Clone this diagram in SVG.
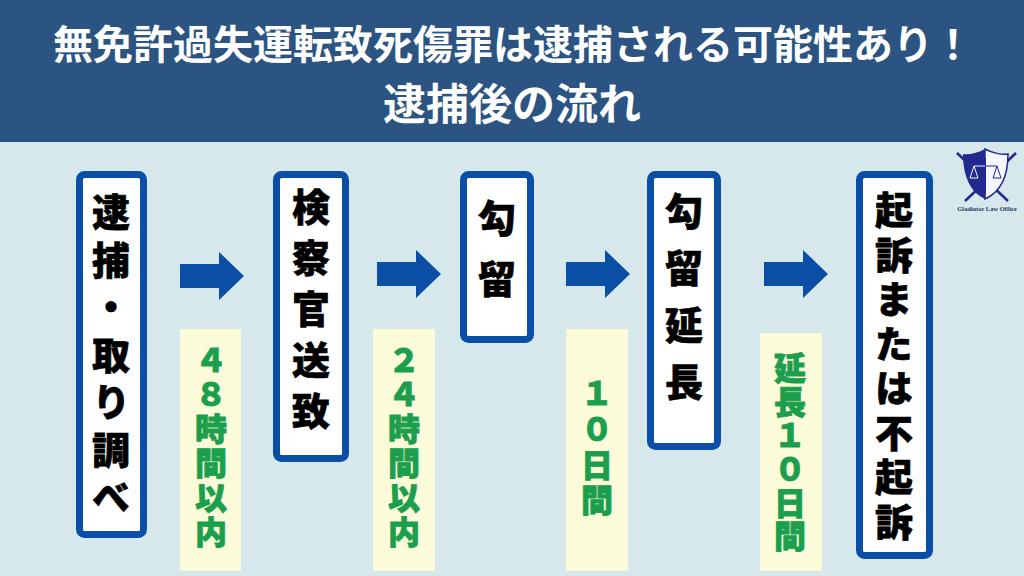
<svg xmlns="http://www.w3.org/2000/svg" width="1024" height="576" viewBox="0 0 1024 576">
<style>
text{font-family:"Noto Sans CJK JP","Noto Sans",sans-serif;text-anchor:middle}
.box{fill:#fff;stroke:#0a4ea6;stroke-width:7}
.t,.g{writing-mode:vertical-rl;text-orientation:upright;text-anchor:start;font-weight:900}
.t{font-size:38px;fill:#000;stroke:#000;stroke-width:.6}
.lb{fill:#fbfbd9}
.g{font-size:32px;fill:#1b9f4c;stroke:#1b9f4c;stroke-width:.8}
.ar{fill:#0a4ea6}
.title{font-weight:700;fill:#fff}
</style>
<rect width="1024" height="576" fill="#d6e8ec"/>
<g id="header"><rect width="1024" height="142" fill="#2b5482"/>
<text class="title" x="513" y="59" font-size="40">無免許過失運転致死傷罪は逮捕される可能性あり！</text>
<text class="title" x="512" y="120" font-size="43">逮捕後の流れ</text></g>
<g id="node1"><rect class="box" x="79.500" y="174.500" width="64" height="360" rx="5"/>
<text class="t" x="111" y="193" letter-spacing="9.500">逮捕・取り調べ</text></g>
<g id="node2"><rect class="box" x="276.500" y="174.500" width="69" height="284" rx="5"/>
<text class="t" x="311" y="188" letter-spacing="13">検察官送致</text></g>
<g id="node3"><rect class="box" x="463.500" y="174.500" width="67" height="165" rx="5"/>
<text class="t" x="497" y="199" letter-spacing="23">勾留</text></g>
<g id="node4"><rect class="box" x="650.500" y="174.500" width="67" height="272" rx="5"/>
<text class="t" x="684" y="192" letter-spacing="19">勾留延長</text></g>
<g id="node5"><rect class="box" x="859.500" y="174.500" width="70" height="381" rx="5"/>
<text class="t" x="894" y="191" letter-spacing="6.500">起訴または不起訴</text></g>
<g id="connectors">
<path class="ar" d="M180 264H219V252L244 276L219 300V288H180Z"/>
<path class="ar" d="M377 262H416V250L441 274L416 298V286H377Z"/>
<path class="ar" d="M566 262H605V250L630 274L605 298V286H566Z"/>
<path class="ar" d="M764 262H803V250L828 274L803 298V286H764Z"/>
</g>
<g id="label1"><rect class="lb" x="180" y="329" width="61" height="242"/>
<text class="g" x="211" y="344" letter-spacing="2.400">４８時間以内</text></g>
<g id="label2"><rect class="lb" x="373" y="329" width="62" height="242"/>
<text class="g" x="404" y="344" letter-spacing="2.400">２４時間以内</text></g>
<g id="label3"><rect class="lb" x="566" y="329" width="62" height="242"/>
<text class="g" x="597" y="377" letter-spacing="3.700">１０日間</text></g>
<g id="label4"><rect class="lb" x="760" y="333" width="62" height="238"/>
<text class="g" x="790" y="352" letter-spacing="1.600">延長１０日間</text></g>
<g id="logo">
<path d="M957 153L1008 201M1016 153L965 201" stroke="#1f2a8c" stroke-width="2.500"/>
<path d="M985 149C978 153 969 155 963 154C963 172 968 191 985 199Z" fill="#1f2a8c"/>
<path d="M985 149C992 153 1002 155 1008 154C1008 172 1003 191 985 199Z" fill="#f4f6fb" stroke="#1f2a8c" stroke-width="1.500"/>
<path d="M985 158V194" stroke="#1f2a8c" stroke-width="2"/>
<path d="M974 166H985M974 166L970 178H978Z" stroke="#f4f6fb" stroke-width="1" fill="none"/>
<path d="M985 166H997M997 166L993 178H1001Z" stroke="#1f2a8c" stroke-width="1" fill="none"/>
<text x="987" y="211" style="font-family:'Liberation Serif',serif;font-size:6.500px;font-weight:700;fill:#2a3a5a">Gladiator Law Office</text>
</g>
</svg>
